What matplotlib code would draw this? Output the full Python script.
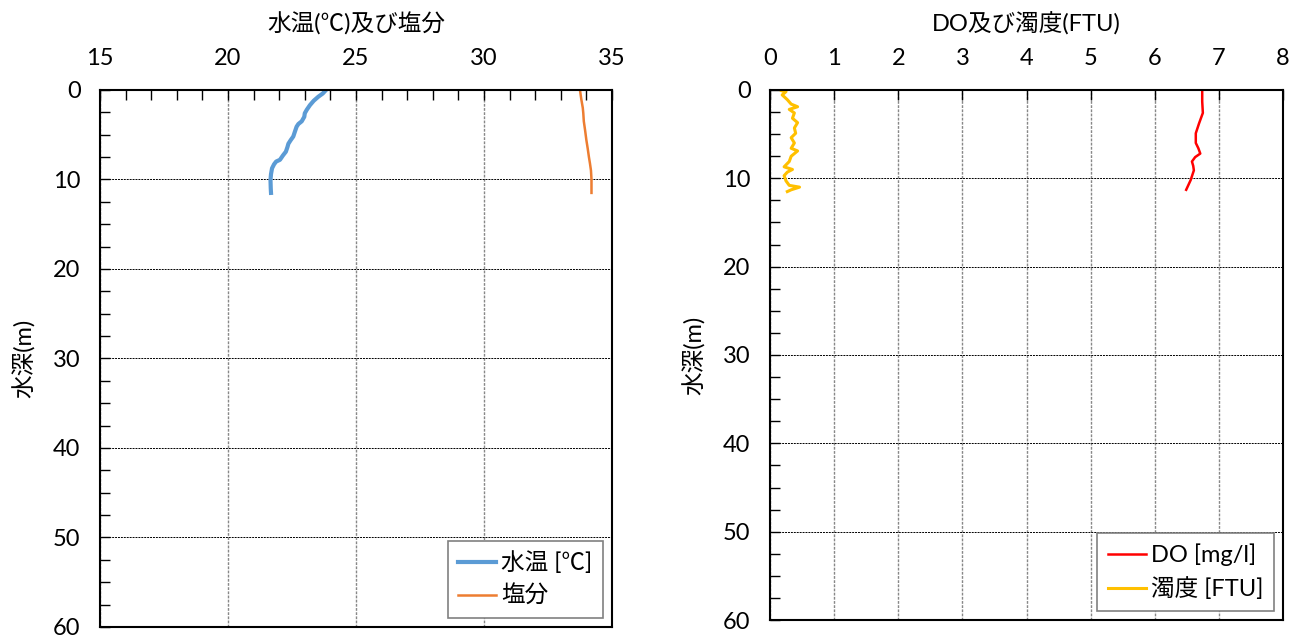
import matplotlib
matplotlib.use("Agg")
import matplotlib.pyplot as plt
from matplotlib.ticker import MultipleLocator

plt.rcParams['font.family'] = ['Lato', 'Noto Sans CJK JP', 'DejaVu Sans']

# 水温
temp_depth = [0, 0.4, 0.75, 1.2, 1.7, 2.2, 2.6, 3.0, 3.5, 3.8, 4.1, 4.6, 5.2, 5.6, 6.0,
              6.4, 6.9, 7.3, 7.8, 8.0, 8.3, 8.75, 9.4, 10.05, 11.0, 11.5]
temp = [23.83, 23.7, 23.53, 23.35, 23.2, 23.08, 23.0, 22.98, 22.88, 22.75, 22.68, 22.62,
        22.55, 22.45, 22.36, 22.32, 22.26, 22.15, 22.03, 21.88, 21.8, 21.72, 21.68, 21.66,
        21.67, 21.68]

# 塩分
sal_depth = [0, 1.0, 2.0, 2.6, 3.5, 4.5, 5.6, 6.5, 7.5, 8.2, 9.0, 10.0, 11.5]
sal = [33.75, 33.8, 33.86, 33.88, 33.9, 33.95, 34.0, 34.05, 34.1, 34.14, 34.18, 34.2, 34.2]

# DO
do_depth = [0, 1.3, 2.6, 3.8, 4.9, 6.0, 6.6, 7.2, 7.6, 8.1, 8.6, 9.1, 10.2, 11.3]
do = [6.74, 6.74, 6.75, 6.69, 6.64, 6.64, 6.68, 6.71, 6.63, 6.58, 6.6, 6.61, 6.56, 6.49]

# 濁度
turb_depth = [0, 0.07, 0.19, 0.56, 1.1, 1.6, 1.9, 2.2, 2.6, 3.2, 3.7, 4.3, 4.9, 5.4, 6.0,
              6.6, 6.9, 7.5, 8.1, 8.7, 9.0, 9.3, 9.7, 10.3, 10.8, 11.0, 11.3, 11.5]
turb = [0.17, 0.17, 0.25, 0.19, 0.27, 0.33, 0.43, 0.30, 0.38, 0.35, 0.43, 0.38, 0.40, 0.33,
        0.38, 0.33, 0.43, 0.33, 0.30, 0.22, 0.35, 0.27, 0.22, 0.25, 0.30, 0.46, 0.33, 0.27]

fig = plt.figure(figsize=(13.04, 6.39), dpi=100)
ax1 = fig.add_axes([0.0767, 0.0188, 0.3926, 0.8404])
ax2 = fig.add_axes([0.5905, 0.0297, 0.3934, 0.8295])

fs = 17


def style(ax, xmin, xmax, xmaj, xmin_step, title):
    ax.set_xlim(xmin, xmax)
    ax.set_ylim(60, 0)
    ax.xaxis.set_major_locator(MultipleLocator(xmaj))
    if xmin_step:
        ax.xaxis.set_minor_locator(MultipleLocator(xmin_step))
    ax.yaxis.set_major_locator(MultipleLocator(10))
    ax.yaxis.set_minor_locator(MultipleLocator(2.5))
    ax.xaxis.tick_top()
    ax.xaxis.set_label_position('top')
    ax.tick_params(axis='x', which='both', direction='in', top=True, bottom=False,
                   labelsize=fs, pad=15)
    ax.tick_params(axis='y', which='both', direction='in', labelsize=fs, pad=14)
    ax.tick_params(which='major', length=7, width=1)
    ax.tick_params(which='minor', length=7, width=1)
    ax.set_xlabel(title, fontsize=fs, labelpad=12)
    ax.set_ylabel('水深(m)', fontsize=fs, labelpad=12)
    ax.grid(axis='x', which='major', color='#888888', linestyle=(0, (2, 1)), linewidth=1)
    ax.grid(axis='y', which='major', color='black', linestyle=(0, (2, 1)), linewidth=0.7)
    for s in ax.spines.values():
        s.set_linewidth(1.5)


style(ax1, 15, 35, 5, 1, '水温(℃)及び塩分')
style(ax2, 0, 8, 1, None, 'DO及び濁度(FTU)')

ax1.plot(temp, temp_depth, color='#5B9BD5', linewidth=3, label='水温 [℃]')
ax1.plot(sal, sal_depth, color='#ED7D31', linewidth=1.8, label='塩分')
ax2.plot(do, do_depth, color='#FF0000', linewidth=1.8, label='DO [mg/l]')
ax2.plot(turb, turb_depth, color='#FFC000', linewidth=2.2, label='濁度 [FTU]')

for ax in (ax1, ax2):
    leg = ax.legend(loc='lower right', fontsize=fs, fancybox=False, framealpha=1,
                    edgecolor='#808080', handlelength=1.6, handletextpad=0.2,
                    borderaxespad=0.4, labelspacing=0.45, borderpad=0.45)
    leg.get_frame().set_linewidth(1.2)

fig.savefig('out.png', dpi=100)
